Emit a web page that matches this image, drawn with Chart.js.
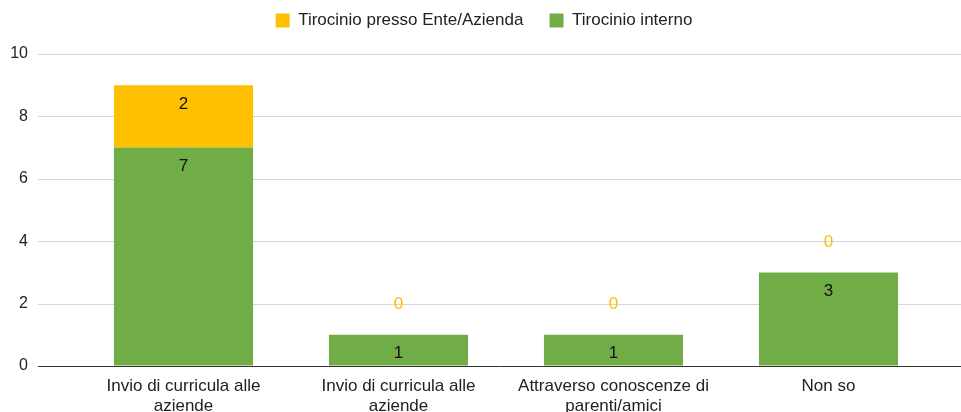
<!DOCTYPE html>
<html lang="it">
<head>
<meta charset="UTF-8">
<title>Tirocinio</title>
<script src="https://cdn.jsdelivr.net/npm/chart.js"></script>
<style>
    body { margin: 0; background: #fff; }
    .chart-container { width: 961px; height: 412px; position: relative; }
</style>
</head>
<body>
<div class="chart-container">
    <canvas id="tirocinioChart"></canvas>
</div>
<script>
    // dati
    const categories = [
        ['Invio di curricula alle', 'aziende'],
        ['Invio di curricula alle', 'aziende'],
        ['Attraverso conoscenze di', 'parenti/amici'],
        ['Non so']
    ];
    const interno = [7, 1, 1, 3];
    const enteAzienda = [2, 0, 0, 0];
    const yTicks = [0, 2, 4, 6, 8, 10];

    const GREEN = '#70AD47';
    const YELLOW = '#FFC000';
    const FONT = "'Liberation Sans', Arial, sans-serif";

    function gridColor(v) {
        return v === 0 ? '#333333' : '#d6d6d6';
    }

    // legenda: spazio extra sotto e leggero spostamento a destra
    const legendTweak = {
        id: 'legendTweak',
        beforeInit(chart) {
            const legend = chart.legend;
            const fit = legend.fit;
            legend.fit = function () {
                fit.bind(legend)();
                this.height += 15;
            };
            const draw = legend.draw;
            legend.draw = function () {
                const ctx = this.ctx;
                ctx.save();
                ctx.translate(16, 0);
                draw.apply(legend, arguments);
                ctx.restore();
            };
        }
    };

    // griglia orizzontale da x=38 fino al bordo destro
    const gridLines = {
        id: 'gridLines',
        beforeDatasetsDraw(chart) {
            const ctx = chart.ctx;
            const y = chart.scales.y;
            ctx.save();
            ctx.lineWidth = 1;
            y.ticks.forEach(t => {
                const py = Math.round(y.getPixelForValue(t.value)) + 0.5;
                ctx.strokeStyle = gridColor(t.value);
                ctx.beginPath();
                ctx.moveTo(38, py);
                ctx.lineTo(chart.width, py);
                ctx.stroke();
            });
            ctx.restore();
        }
    };

    // etichette dei valori
    const valueLabels = {
        id: 'valueLabels',
        afterDatasetsDraw(chart) {
            const ctx = chart.ctx;
            ctx.save();
            ctx.textAlign = 'center';
            ctx.textBaseline = 'middle';
            ctx.font = '17px ' + FONT;
            chart.data.datasets.forEach((ds, di) => {
                const meta = chart.getDatasetMeta(di);
                meta.data.forEach((bar, i) => {
                    const v = ds.data[i];
                    if (v === 0) {
                        ctx.fillStyle = ds.backgroundColor;
                        ctx.fillText(String(v), bar.x, bar.y - 30);
                    } else {
                        ctx.fillStyle = '#111';
                        ctx.fillText(String(v), bar.x, bar.y + 19);
                    }
                });
            });
            ctx.restore();
        }
    };

    new Chart(document.getElementById('tirocinioChart').getContext('2d'), {
        type: 'bar',
        data: {
            labels: categories,
            datasets: [
                {
                    label: 'Tirocinio interno',
                    data: interno,
                    backgroundColor: GREEN,
                    categoryPercentage: 1,
                    barPercentage: 0.647
                },
                {
                    label: 'Tirocinio presso Ente/Azienda',
                    data: enteAzienda,
                    backgroundColor: YELLOW,
                    categoryPercentage: 1,
                    barPercentage: 0.647
                }
            ]
        },
        options: {
            responsive: true,
            maintainAspectRatio: false,
            animation: false,
            layout: { padding: { top: 0, right: 25, bottom: 0, left: 0 } },
            plugins: {
                legend: {
                    position: 'top',
                    reverse: true,
                    labels: {
                        boxWidth: 14,
                        boxHeight: 14,
                        padding: 12,
                        color: '#222',
                        font: { family: FONT, size: 17 },
                        // un po' più di spazio fra le due voci
                        generateLabels(chart) {
                            const items = Chart.defaults.plugins.legend.labels.generateLabels(chart);
                            items.forEach(it => {
                                it.lineWidth = 0;
                                if (it.datasetIndex === 1) it.text = it.text + '   ';
                            });
                            return items;
                        }
                    }
                },
                tooltip: { enabled: false }
            },
            scales: {
                x: {
                    stacked: true,
                    offset: true,
                    grid: { display: false, drawTicks: false },
                    border: { display: false },
                    ticks: {
                        color: '#222',
                        padding: 10,
                        maxRotation: 0,
                        autoSkip: false,
                        font: { family: FONT, size: 17 }
                    },
                    afterFit(scale) { scale.height = 46; }
                },
                y: {
                    stacked: true,
                    min: 0,
                    max: 10,
                    afterBuildTicks(scale) {
                        scale.ticks = yTicks.map(v => ({ value: v }));
                    },
                    // linee disegnate dal plugin, qui solo lo spazio per le tacche
                    grid: { color: 'rgba(0,0,0,0)', tickLength: 38, drawTicks: true },
                    border: { display: false },
                    ticks: {
                        color: '#222',
                        padding: 10,
                        font: { family: FONT, size: 16 }
                    },
                    afterFit(scale) { scale.width = 76; }
                }
            }
        },
        plugins: [legendTweak, gridLines, valueLabels]
    });
</script>
</body>
</html>
